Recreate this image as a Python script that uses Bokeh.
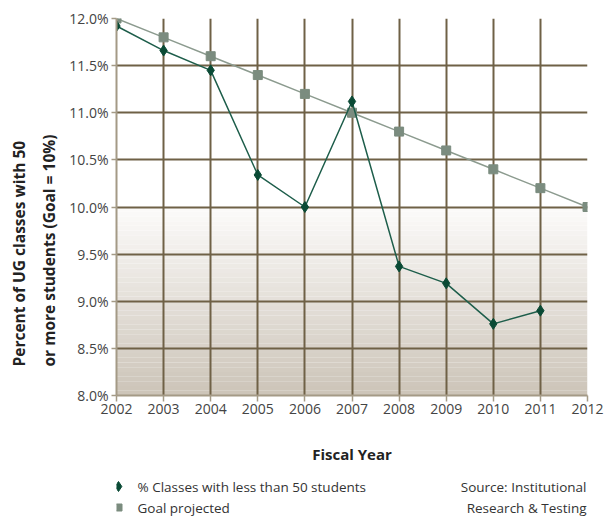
from bokeh.plotting import figure
from bokeh.layouts import column
from bokeh.models import Range1d, FixedTicker, PrintfTickFormatter, ColumnDataSource, Title
from bokeh.core.properties import value
from bokeh.embed import file_html
from bokeh.resources import INLINE

years = [2002, 2003, 2004, 2005, 2006, 2007, 2008, 2009, 2010, 2011]
pct_classes = [11.92, 11.66, 11.45, 10.34, 10.0, 11.12, 9.37, 9.19, 8.76, 8.90]
goal_years = [2002, 2003, 2004, 2005, 2006, 2007, 2008, 2009, 2010, 2011, 2012]
goal_values = [12.0, 11.8, 11.6, 11.4, 11.2, 11.0, 10.8, 10.6, 10.4, 10.2, 10.0]
y_ticks = [8.0, 8.5, 9.0, 9.5, 10.0, 10.5, 11.0, 11.5, 12.0]
x_ticks = goal_years
y_label_lines = ["Percent of UG classes with 50", "or more students (Goal = 10%)"]
x_label = "Fiscal Year"
legend_labels = ["% Classes with less than 50 students", "Goal projected"]
source_lines = ["Source: Institutional", "Research & Testing"]

FONT = "Open Sans"
SERIES_COLOR = "#0a4a35"
SERIES_LINE = "#1e5e4b"
GOAL_COLOR = "#7b8c7f"
GOAL_LINE = "#8c9b8f"

p = figure(width=612, height=470, output_backend="svg", toolbar_location=None,
           x_range=Range1d(2002, 2012), y_range=Range1d(8.0, 12.0),
           min_border_left=116, min_border_right=25, min_border_top=18, min_border_bottom=75)
p.outline_line_color = None
p.background_fill_color = "white"

# gradient band below the 10% goal
n = 40
top_c = (252, 251, 250)
bot_c = (204, 196, 184)
lo, hi = 8.0, 10.0
bottoms, tops, cols = [], [], []
for i in range(n):
    b = lo + (hi - lo) * i / n
    t = lo + (hi - lo) * (i + 1) / n
    f = (i + 0.5) / n
    c = tuple(int(round(bot_c[k] + (top_c[k] - bot_c[k]) * f)) for k in range(3))
    bottoms.append(b); tops.append(t); cols.append("#%02x%02x%02x" % c)
p.quad(left=2002, right=2012, bottom=bottoms, top=tops, fill_color=cols, line_color=None, level="underlay")

# grid
p.xgrid.ticker = FixedTicker(ticks=x_ticks)
p.ygrid.ticker = FixedTicker(ticks=y_ticks)
for g in (p.xgrid, p.ygrid):
    g.grid_line_color = "#6f6146"
    g.grid_line_width = 2
    g.level = "underlay"

# axes
p.xaxis.ticker = FixedTicker(ticks=x_ticks)
p.yaxis.ticker = FixedTicker(ticks=y_ticks)
p.yaxis.formatter = PrintfTickFormatter(format="%.1f%%")
p.xaxis.formatter = PrintfTickFormatter(format="%d")
for ax in (p.xaxis, p.yaxis):
    ax.axis_line_color = "#a49a86"
    ax.axis_line_width = 2
    ax.major_tick_line_color = "#a49a86"
    ax.major_tick_line_width = 1.5
    ax.major_tick_in = 0
    ax.minor_tick_line_color = None
    ax.major_label_text_font = FONT
    ax.major_label_text_font_size = "14px"
    ax.major_label_text_color = "#444444"
    ax.axis_label_text_font = FONT
    ax.axis_label_text_font_style = "bold"
    ax.axis_label_text_font_size = "15px"
    ax.axis_label_text_color = "#222222"
p.yaxis.major_tick_out = 5
p.xaxis.major_tick_out = 6
p.yaxis.major_label_standoff = 3
p.xaxis.major_label_standoff = 2
p.xaxis.axis_label = x_label
p.xaxis.axis_label_standoff = 27

# y axis label as two rotated titles, starting low like the reference
t2 = Title(text=y_label_lines[1], align="left", offset=29, standoff=13,
           text_font=FONT, text_font_size="15.5px", text_font_style="bold", text_color="#222222")
t1 = Title(text=y_label_lines[0], align="left", offset=29, standoff=0,
           text_font=FONT, text_font_size="15.5px", text_font_style="bold", text_color="#222222")
p.add_layout(t2, "left")
p.add_layout(t1, "left")

# series
gsrc = ColumnDataSource(dict(x=goal_years, y=goal_values))
ssrc = ColumnDataSource(dict(x=years, y=pct_classes))
p.line("x", "y", source=gsrc, line_color=GOAL_LINE, line_width=1.5)
p.scatter("x", "y", source=gsrc, marker="square", size=9, fill_color=GOAL_COLOR, line_color=GOAL_COLOR)
p.line("x", "y", source=ssrc, line_color=SERIES_LINE, line_width=1.5)
p.scatter("x", "y", source=ssrc, marker="diamond", size=11, fill_color=SERIES_COLOR, line_color=SERIES_COLOR)

# legend / source strip below (x in canvas pixels, frame aligned with the chart)
q = figure(width=612, height=51, output_backend="svg", toolbar_location=None,
           x_range=Range1d(116, 587), y_range=Range1d(51, 0),
           min_border_left=116, min_border_right=25, min_border_top=0, min_border_bottom=0)
q.axis.visible = False
q.grid.visible = False
q.outline_line_color = None
row_y = [16, 37]
q.scatter(x=[118], y=[row_y[0]], marker="diamond", size=10, fill_color=SERIES_COLOR, line_color=SERIES_COLOR)
q.scatter(x=[118], y=[row_y[1]], marker="square", size=7, fill_color=GOAL_COLOR, line_color=GOAL_COLOR)
q.text(x=[137, 137], y=row_y, text=legend_labels, text_font=value(FONT), text_font_size="13.5px",
       text_color="#333333", text_baseline="middle", text_align="left")
q.text(x=[586, 586], y=row_y, text=source_lines, text_font=value(FONT), text_font_size="13.5px",
       text_color="#333333", text_baseline="middle", text_align="right")

layout = column(p, q, spacing=0)
open("out.html", "w").write(file_html(layout, INLINE))
